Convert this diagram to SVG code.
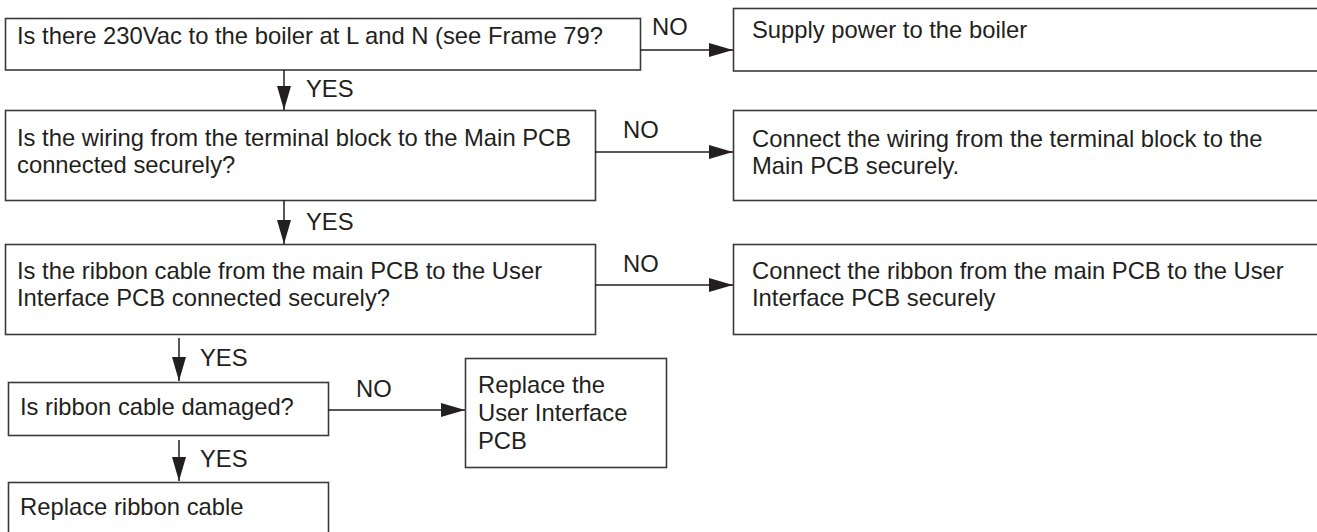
<svg xmlns="http://www.w3.org/2000/svg" width="1317" height="532" viewBox="0 0 1317 532">
<style>
.box{fill:#fff;stroke:#3a3a3a;stroke-width:1.6}
.t{font-family:"Liberation Sans",Arial,sans-serif;font-size:23.8px;fill:#231f20}
.c{stroke:#231f20;stroke-width:1.5;fill:none;marker-end:url(#ah)}
</style>
<defs>
<marker id="ah" markerUnits="userSpaceOnUse" markerWidth="24" markerHeight="14" refX="24" refY="7" orient="auto" viewBox="0 0 24 14">
<path d="M0,0 L24,7 L0,14 z" fill="#231f20"/>
</marker>
</defs>
<rect width="1317" height="532" fill="#fff"/>
<g id="q1">
<rect class="box" x="5.5" y="18.5" width="635" height="51.5"/>
<text class="t" x="17" y="44">Is there 230Vac to the boiler at L and N (see Frame 79?</text>
</g>
<g id="a1">
<rect class="box" x="733.5" y="8.5" width="600" height="62.5"/>
<text class="t" x="752" y="38">Supply power to the boiler</text>
</g>
<g id="q2">
<rect class="box" x="5.5" y="110.5" width="590" height="90"/>
<text class="t" x="17" y="146">Is the wiring from the terminal block to the Main PCB</text>
<text class="t" x="17" y="173">connected securely?</text>
</g>
<g id="a2">
<rect class="box" x="733.5" y="110.5" width="600" height="90"/>
<text class="t" x="752" y="147">Connect the wiring from the terminal block to the</text>
<text class="t" x="752" y="174">Main PCB securely.</text>
</g>
<g id="q3">
<rect class="box" x="5.5" y="244.5" width="590" height="90"/>
<text class="t" x="17" y="279">Is the ribbon cable from the main PCB to the User</text>
<text class="t" x="17" y="306">Interface PCB connected securely?</text>
</g>
<g id="a3">
<rect class="box" x="733.5" y="244.5" width="600" height="90"/>
<text class="t" x="752" y="279">Connect the ribbon from the main PCB to the User</text>
<text class="t" x="752" y="306">Interface PCB securely</text>
</g>
<g id="q4">
<rect class="box" x="8.5" y="382.5" width="320" height="53"/>
<text class="t" x="20" y="415">Is ribbon cable damaged?</text>
</g>
<g id="a4">
<rect class="box" x="465.5" y="358.5" width="201" height="109"/>
<text class="t" x="478" y="393">Replace the</text>
<text class="t" x="478" y="421">User Interface</text>
<text class="t" x="478" y="449">PCB</text>
</g>
<g id="a5">
<rect class="box" x="8.5" y="482.5" width="320" height="60"/>
<text class="t" x="20" y="515">Replace ribbon cable</text>
</g>
<g id="connectors">
<path class="c" d="M640,50 H733"/>
<path class="c" d="M595,152 H733"/>
<path class="c" d="M595,285 H733"/>
<path class="c" d="M328,410 H465"/>
<path class="c" d="M284,70 V110"/>
<path class="c" d="M284,200 V244"/>
<path class="c" d="M179,338 V381"/>
<path class="c" d="M179,440 V481"/>
<text class="t" x="652" y="35">NO</text>
<text class="t" x="623" y="138">NO</text>
<text class="t" x="623" y="272">NO</text>
<text class="t" x="356" y="397">NO</text>
<text class="t" x="306" y="97">YES</text>
<text class="t" x="306" y="230">YES</text>
<text class="t" x="200" y="366">YES</text>
<text class="t" x="200" y="467">YES</text>
</g>
</svg>
